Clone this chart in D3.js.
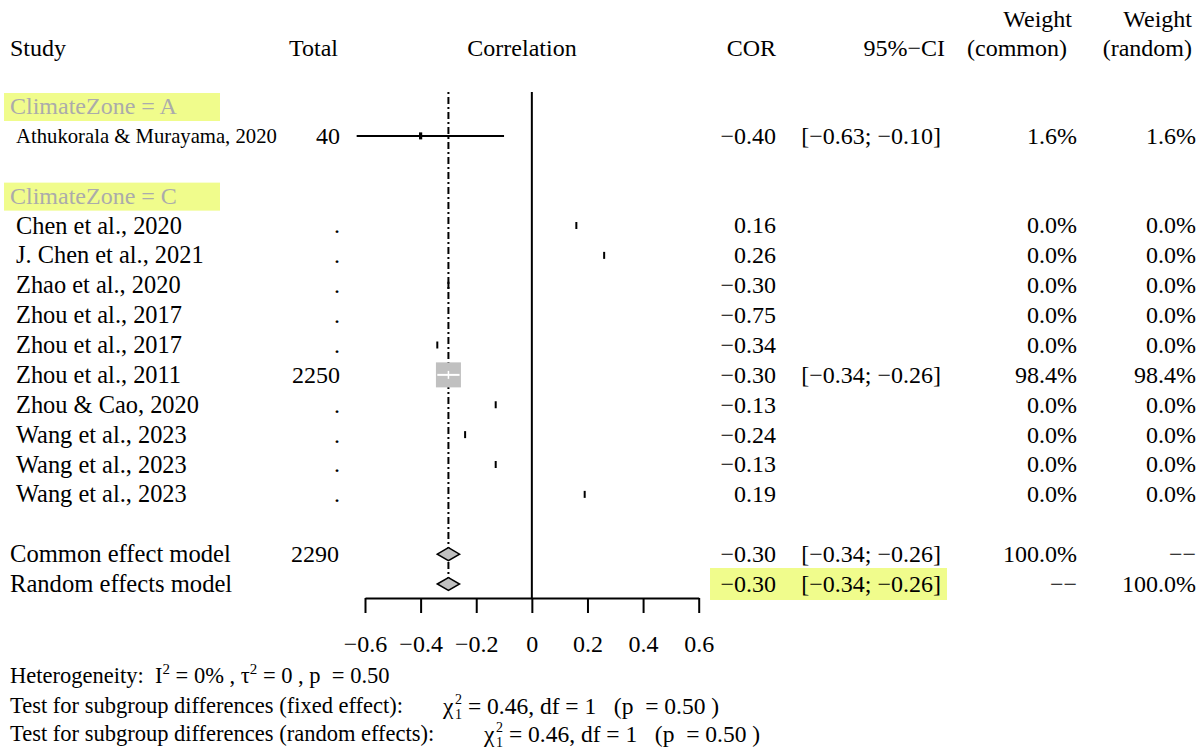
<!DOCTYPE html>
<html>
<head>
<meta charset="utf-8">
<script src="https://cdn.jsdelivr.net/npm/d3@7"></script>
<style>
  body { margin: 0; background: #fff; }
  svg text { font-family: "Liberation Serif", "Times New Roman", serif; white-space: pre; }
</style>
</head>
<body>
<svg id="chart" width="1201" height="751"></svg>
<script>
// data
const groupLabels = ["ClimateZone = A", "ClimateZone = C"];
const studies = ["Athukorala & Murayama, 2020", "Chen et al., 2020", "J. Chen et al., 2021", "Zhao et al., 2020",
  "Zhou et al., 2017", "Zhou et al., 2017", "Zhou et al., 2011", "Zhou & Cao, 2020",
  "Wang et al., 2023", "Wang et al., 2023", "Wang et al., 2023"];
const studyGroup = [0, 1, 1, 1, 1, 1, 1, 1, 1, 1, 1];
const totals = [40, null, null, null, null, null, 2250, null, null, null, null];
const cor = [-0.40, 0.16, 0.26, -0.30, -0.75, -0.34, -0.30, -0.13, -0.24, -0.13, 0.19];
const ciLower = [-0.63, null, null, null, null, null, -0.34, null, null, null, null];
const ciUpper = [-0.10, null, null, null, null, null, -0.26, null, null, null, null];
const weightCommon = [1.6, 0, 0, 0, 0, 0, 98.4, 0, 0, 0, 0];
const weightRandom = [1.6, 0, 0, 0, 0, 0, 98.4, 0, 0, 0, 0];

const summaryLabels = ["Common effect model", "Random effects model"];
const summaryTotal = [2290, null];
const summaryCor = [-0.30, -0.30];
const summaryLower = [-0.34, -0.34];
const summaryUpper = [-0.26, -0.26];
const summaryWCommon = ["100.0%", "−−"];
const summaryWRandom = ["−−", "100.0%"];

const xTicks = [-0.6, -0.4, -0.2, 0, 0.2, 0.4, 0.6];

const svg = d3.select("#chart");
const fmt2 = d3.format(".2f");
const fmtW = d3.format(".1f");

var x = d3.scaleLinear().domain([-0.6, 0.6]).range([365, 698.7]);
var y = d3.scaleLinear().domain([0, 16]).range([106, 584]);
var boxSize = d3.scaleSqrt().domain([0, 98.4]).range([0, 25]);

// build row layout: group header, studies, blank, ...
var rows = [];
var r = 0;
groupLabels.forEach(function(g, gi) {
  rows.push({type: "group", label: g, row: r++});
  studies.forEach(function(s, i) {
    if (studyGroup[i] == gi) rows.push({type: "study", i: i, row: r++});
  });
  r++;
});
summaryLabels.forEach(function(s, i) { rows.push({type: "summary", i: i, row: r++}); });

const colStudy = 10, colStudyIndent = 16, colTotal = 340, colCor = 776, colCI = 941,
      colWC = 1077, colWR = 1196;
const hl = "rgb(240,252,140)";

// highlights
rows.filter(d => d.type == "group").forEach(function(d) {
  svg.append("rect").attr("x", 4).attr("y", y(d.row) - 13).attr("width", 216).attr("height", 28).attr("fill", hl);
});
var randRow = rows.filter(d => d.type == "summary")[1].row;
svg.append("rect").attr("x", 710).attr("y", y(randRow) - 16).attr("width", 237).attr("height", 32).attr("fill", hl);

// header
function txt(xp, yp, s, anchor, size, color) {
  return svg.append("text").attr("x", xp).attr("y", yp).attr("dy", "0.33em")
    .attr("text-anchor", anchor || "start").style("font-size", (size || 24) + "px")
    .attr("fill", color || "#000").text(s);
}
txt(colStudy, 48, "Study");
txt(338, 48, "Total", "end");
txt(522, 48, "Correlation", "middle");
txt(colCor, 48, "COR", "end");
txt(945, 48, "95%−CI", "end");
txt(1072, 19, "Weight", "end");
txt(1067, 48, "(common)", "end");
txt(1192, 19, "Weight", "end");
txt(1192, 48, "(random)", "end");

// reference lines
var plotTop = 92, axisY = 598;
svg.append("line").attr("x1", x(0)).attr("x2", x(0)).attr("y1", plotTop).attr("y2", axisY)
  .attr("stroke", "#000").attr("stroke-width", 2);
svg.append("line").attr("x1", x(summaryCor[0])).attr("x2", x(summaryCor[0])).attr("y1", plotTop).attr("y2", y(randRow))
  .attr("stroke", "#000").attr("stroke-width", 2).attr("stroke-dasharray", "2,3,7,3");

// rows
rows.forEach(function(d) {
  var yy = y(d.row);
  if (d.type == "group") {
    txt(colStudy, yy, d.label, "start", 24, "#ababab");
    return;
  }
  if (d.type == "study") {
    var i = d.i;
    var long = studies[i].length > 22;
    txt(colStudyIndent, yy, studies[i], "start", long ? 20.7 : 24.4);
    txt(colTotal, yy, totals[i] == null ? "." : totals[i], "end");
    txt(colCor, yy, fmt2(cor[i]), "end");
    if (ciLower[i] != null) txt(colCI, yy, "[" + fmt2(ciLower[i]) + "; " + fmt2(ciUpper[i]) + "]", "end");
    txt(colWC, yy, fmtW(weightCommon[i]) + "%", "end");
    txt(colWR, yy, fmtW(weightRandom[i]) + "%", "end");
    if (cor[i] < x.domain()[0] || cor[i] > x.domain()[1]) return;
    var s = boxSize(weightCommon[i]);
    if (ciLower[i] != null && s < 10) {
      svg.append("line").attr("x1", x(ciLower[i])).attr("x2", x(ciUpper[i])).attr("y1", yy).attr("y2", yy)
        .attr("stroke", "#000").attr("stroke-width", 2);
    }
    if (s >= 10) {
      svg.append("rect").attr("x", x(cor[i]) - s / 2).attr("y", yy - s / 2).attr("width", s).attr("height", s)
        .attr("fill", "#c0c0c0");
      svg.append("line").attr("x1", x(ciLower[i])).attr("x2", x(ciUpper[i])).attr("y1", yy).attr("y2", yy)
        .attr("stroke", "#fff").attr("stroke-width", 2);
      svg.append("line").attr("x1", x(cor[i])).attr("x2", x(cor[i])).attr("y1", yy - 4).attr("y2", yy + 4)
        .attr("stroke", "#fff").attr("stroke-width", 1.5);
    } else {
      var w = Math.max(2, s), h = 7;
      svg.append("rect").attr("x", x(cor[i]) - w / 2).attr("y", yy - h / 2).attr("width", w).attr("height", h)
        .attr("fill", "#000");
    }
    return;
  }
  // summary rows
  var k = d.i;
  txt(colStudy, yy, summaryLabels[k], "start", 24.6);
  if (summaryTotal[k] != null) txt(colTotal - 1, yy, summaryTotal[k], "end");
  txt(colCor, yy, fmt2(summaryCor[k]), "end");
  txt(colCI, yy, "[" + fmt2(summaryLower[k]) + "; " + fmt2(summaryUpper[k]) + "]", "end");
  txt(colWC, yy, summaryWCommon[k], "end");
  txt(colWR, yy, summaryWRandom[k], "end");
  var dh = 6.5;
  var pts = [[x(summaryLower[k]), yy], [x(summaryCor[k]), yy - dh], [x(summaryUpper[k]), yy], [x(summaryCor[k]), yy + dh]];
  svg.append("path").attr("d", d3.line()(pts) + "Z").attr("fill", "#c0c0c0")
    .attr("stroke", "#000").attr("stroke-width", 1.5);
});

// x axis
var xAxis = d3.axisBottom(x).tickValues(xTicks).tickSize(15).tickSizeOuter(0).tickPadding(22)
  .tickFormat(function(d) { return d == 0 ? "0" : d3.format(".1f")(d); });
var gx = svg.append("g").attr("transform", "translate(0," + axisY + ")").call(xAxis);
gx.selectAll("path, line").attr("stroke", "#000").attr("stroke-width", 2);
gx.selectAll("text").attr("fill", "#000").style("font-size", "24px")
  .style("font-family", "'Liberation Serif', serif");

// bottom statistics
var fs = 22.5;
var het = svg.append("text").attr("x", 10).attr("y", 676).attr("dy", "0.33em").style("font-size", fs + "px");
het.append("tspan").text("Heterogeneity:  I");
het.append("tspan").attr("dy", -9).style("font-size", "15px").text("2");
het.append("tspan").attr("dy", 9).text(" = 0% , τ");
het.append("tspan").attr("dy", -9).style("font-size", "15px").text("2");
het.append("tspan").attr("dy", 9).text(" = 0 , p  = 0.50");

function chiLine(yp, label, xChi) {
  txt(10, yp, label, "start", fs);
  var base = yp + 7.5;
  svg.append("text").attr("x", xChi).attr("y", base).style("font-size", "23.5px").text("χ");
  svg.append("text").attr("x", xChi + 12).attr("y", base - 10).style("font-size", "14px").text("2");
  svg.append("text").attr("x", xChi + 12).attr("y", base + 5).style("font-size", "14px").text("1");
  svg.append("text").attr("x", xChi + 19).attr("y", base).style("font-size", "23.5px")
    .text(" = 0.46, df = 1   (p  = 0.50 )");
}
chiLine(706, "Test for subgroup differences (fixed effect):", 443);
chiLine(734, "Test for subgroup differences (random effects):", 484);
</script>
</body>
</html>
